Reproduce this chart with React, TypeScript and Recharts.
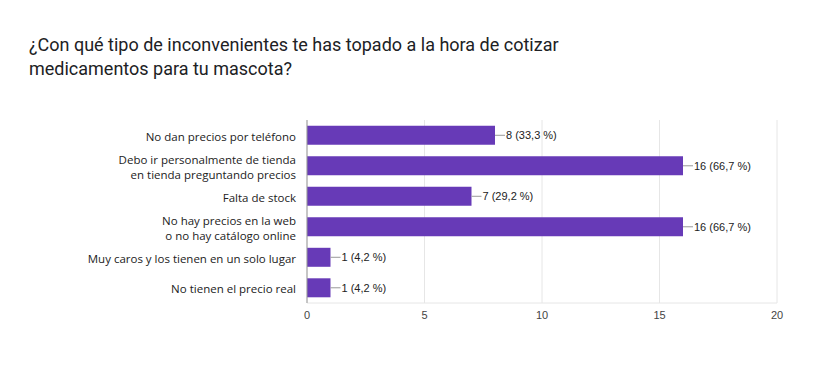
import React from "react";
import { BarChart, Bar, XAxis, YAxis, CartesianGrid, LabelList } from "recharts";

const categories = [
  "No dan precios por teléfono",
  "Debo ir personalmente de tienda\nen tienda preguntando precios",
  "Falta de stock",
  "No hay precios en la web\no no hay catálogo online",
  "Muy caros y los tienen en un solo lugar",
  "No tienen el precio real",
];
const counts = [8, 16, 7, 16, 1, 1];
const percents = ["33,3", "66,7", "29,2", "66,7", "4,2", "4,2"];
const xTicks = [0, 5, 10, 15, 20];

const data = categories.map((c, i) => ({ name: c, value: counts[i], pct: percents[i] }));

const YTick = (props: any) => {
  const { y, payload } = props;
  const x = 296;
  const lines = String(payload.value).split("\n");
  const lh = 14.5;
  const start = y + 1.5 - ((lines.length - 1) * lh) / 2;
  return (
    <text
      x={x}
      y={start}
      textAnchor="end"
      fill="#222"
      fontSize={11.5}
      fontFamily="'Open Sans', sans-serif"
    >
      {lines.map((l, i) => (
        <tspan key={i} x={x} y={start + i * lh} dy="0.35em">
          {l}
        </tspan>
      ))}
    </text>
  );
};

const BarLabel = (props: any) => {
  const { x, y, width, height, index } = props;
  const ex = x + width;
  const cy = y + height / 2;
  return (
    <g>
      <line x1={ex} y1={cy} x2={ex + 10} y2={cy} stroke="#999" strokeWidth={1} />
      <text
        x={ex + 11}
        y={cy}
        dy="0.35em"
        fontSize={11}
        fill="#222"
        fontFamily="Arial, 'Liberation Sans', sans-serif"
      >
        {`${counts[index]} (${percents[index]} %)`}
      </text>
    </g>
  );
};

export default function App() {
  return (
    <div
      style={{
        position: "absolute",
        left: 0,
        top: 0,
        width: 840,
        height: 374,
        background: "#fff",
      }}
    >
      <div
        style={{
          position: "absolute",
          left: 29,
          top: 33,
          fontFamily: "Roboto, sans-serif",
          fontSize: 18,
          lineHeight: "23.5px",
          color: "#202124",
        }}
      >
        ¿Con qué tipo de inconvenientes te has topado a la hora de cotizar
        <br />
        medicamentos para tu mascota?
      </div>
      <div style={{ position: "absolute", left: 0, top: 0 }}>
        <BarChart
          width={840}
          height={374}
          data={data}
          layout="vertical"
          margin={{ top: 120, right: 63, bottom: 41, left: 0 }}
          barCategoryGap="19%"
        >
          <CartesianGrid horizontal={false} stroke="#e6e6e6" strokeDasharray="" />
          <XAxis
            type="number"
            domain={[0, 20]}
            ticks={xTicks}
            tickLine={false}
            axisLine={{ stroke: "#e6e6e6" }}
            tick={{ fontSize: 11, fill: "#444", fontFamily: "Arial, 'Liberation Sans', sans-serif" }}
            tickMargin={2}
          />
          <YAxis
            type="category"
            dataKey="name"
            width={307}
            tickLine={false}
            axisLine={{ stroke: "#999" }}
            tick={<YTick />}
            interval={0}
          />
          <Bar dataKey="value" fill="#673ab7" isAnimationActive={false}>
            <LabelList dataKey="value" content={<BarLabel />} />
          </Bar>
        </BarChart>
      </div>
    </div>
  );
}
